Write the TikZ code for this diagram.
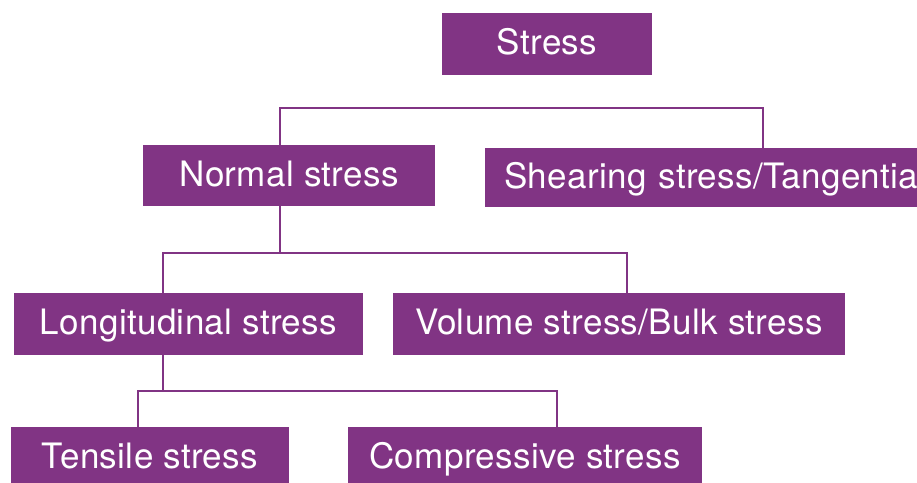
\documentclass[tikz,border=0pt]{standalone}
\usepackage{fontspec}
\setmainfont[LetterSpace=1]{TeX Gyre Heros}
\definecolor{stresspurple}{RGB}{129,52,132}
\begin{document}
\begin{tikzpicture}[x=1pt,y=-1pt,
  box/.style={fill=stresspurple,draw=none,text=white,inner sep=0pt,
    font=\fontsize{35}{42}\selectfont,text height=24pt,text depth=3pt},
  conn/.style={draw=stresspurple,line width=2.9pt,line join=miter}]
\useasboundingbox (0,0) rectangle (917,482);
\clip (0,0) rectangle (917,482);
\node[box,minimum width=210pt,minimum height=62pt] (stress) at (547,44) {Stress};
\node[box,minimum width=292pt,minimum height=61pt] (normal) at (289,175.5) {Normal stress};
\node[box,anchor=west,minimum height=59pt,text width=420pt,align=left,inner xsep=19pt] (shear) at (485,177.5) {Shearing stress/Tangentia};
\node[box,minimum width=349pt,minimum height=62pt] (long) at (188.5,324) {Longitudinal stress};
\node[box,minimum width=452pt,minimum height=62pt] (vol) at (619,324) {Volume stress/Bulk stress};
\node[box,minimum width=278pt,minimum height=62pt] (tens) at (150,458) {Tensile stress};
\node[box,minimum width=354pt,minimum height=62pt] (comp) at (525,458) {Compressive stress};
\coordinate (b1) at (280,108);
\coordinate (b2) at (763,108);
\coordinate (b3) at (280,253);
\coordinate (b4) at (163,253);
\coordinate (b5) at (627,253);
\coordinate (b6) at (163,391);
\coordinate (b7) at (138,391);
\coordinate (b8) at (557,391);
\draw[conn] (normal.north -| b1) -- (b1) -- (b2) -- (shear.north -| b2);
\draw[conn] (normal.south -| b3) -- (b3);
\draw[conn] (long.north -| b4) -- (b4) -- (b5) -- (vol.north -| b5);
\draw[conn] (long.south -| b6) -- (b6);
\draw[conn] (tens.north -| b7) -- (b7) -- (b8) -- (comp.north -| b8);
\end{tikzpicture}
\end{document}
